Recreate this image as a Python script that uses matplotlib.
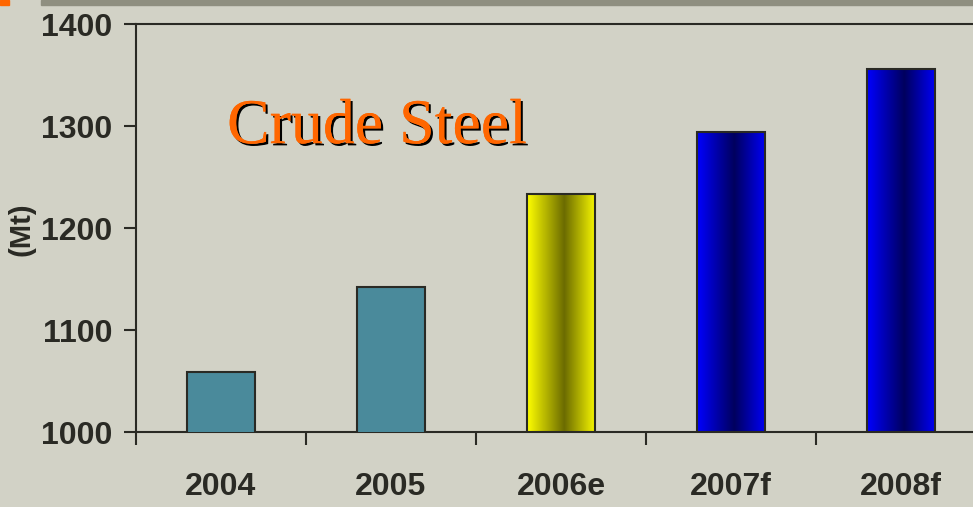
import matplotlib
matplotlib.use("Agg")
import matplotlib.pyplot as plt
import matplotlib.patheffects as pe
from matplotlib.colors import LinearSegmentedColormap
from matplotlib.patches import Rectangle
import numpy as np

# values (Mt)
years = ["2004", "2005", "2006e", "2007f", "2008f"]
steel = [1059, 1142, 1233, 1294, 1356]
bar_style = ["flat", "flat", "yellow", "blue", "blue"]
y_ticks = [1000, 1100, 1200, 1300, 1400]

BG = "#d2d2c6"
INK = "#2a2a24"
TEAL = "#4a8a9b"

gradients = {
    "yellow": LinearSegmentedColormap.from_list(
        "yel", [(0, "#ffff00"), (0.55, "#6b6b00"), (1, "#f4f400")]
    ),
    "blue": LinearSegmentedColormap.from_list(
        "blu", [(0, "#0000ff"), (0.55, "#00005e"), (1, "#0000f4")]
    ),
}

plt.rcParams["font.family"] = ["Liberation Sans", "DejaVu Sans"]
plt.rcParams["font.weight"] = "bold"

fig = plt.figure(figsize=(9.73, 5.07), dpi=100, facecolor=BG)
ax = fig.add_axes([136 / 973, 75 / 507, 850 / 973, 408 / 507])
ax.set_facecolor(BG)

# little header decoration
fig.patches.append(Rectangle((41 / 973, 502 / 507), 1, 5 / 507,
                             transform=fig.transFigure, color="#8f8f80", zorder=0))
fig.patches.append(Rectangle((0, 502 / 507), 9 / 973, 5 / 507,
                             transform=fig.transFigure, color="#ff6600", zorder=0))

x = np.arange(len(years))
bars = ax.bar(x, steel, width=0.4, color=TEAL, edgecolor=INK, linewidth=1.5, zorder=3)

grad = np.linspace(0, 1, 256).reshape(1, -1)
for b, style in zip(bars, bar_style):
    if style in gradients:
        x0, w = b.get_x(), b.get_width()
        im = ax.imshow(grad, extent=[x0, x0 + w, 1000, b.get_height()],
                       aspect="auto", cmap=gradients[style], zorder=2.5,
                       interpolation="bilinear")
        im.set_clip_path(b)
        b.set_facecolor("none")

ax.set_xlim(-0.5, len(years) - 0.5)
ax.set_ylim(1000, 1400)
ax.set_yticks(y_ticks)
ax.set_xticks(x)
ax.set_xticklabels(years)
ax.set_xticks(np.arange(len(years) + 1) - 0.5, minor=True)

ax.tick_params(axis="x", which="major", length=0, pad=29, labelsize=23, colors=INK)
ax.tick_params(axis="x", which="minor", length=9, width=1.5, color=INK, direction="out")
ax.tick_params(axis="y", length=9, width=1.5, pad=8, labelsize=23, colors=INK)

for side in ["left", "bottom", "top", "right"]:
    ax.spines[side].set_color(INK)
    ax.spines[side].set_linewidth(1.5)

ax.set_ylabel("(Mt)", fontsize=21, fontweight="bold", color=INK, va="center")
ax.yaxis.set_label_coords(-0.135, 0.4975)

ax.text(0.2835, 0.708, "Crude Steel", transform=ax.transAxes, ha="center",
        va="baseline", fontsize=46, color="#ff6600", family="Liberation Serif",
        fontweight="normal",
        path_effects=[pe.withSimplePatchShadow(offset=(1.6, -1.6),
                                               shadow_rgbFace="black", alpha=1),
                      pe.Normal()])

fig.savefig("out.png", dpi=100, facecolor=BG)
